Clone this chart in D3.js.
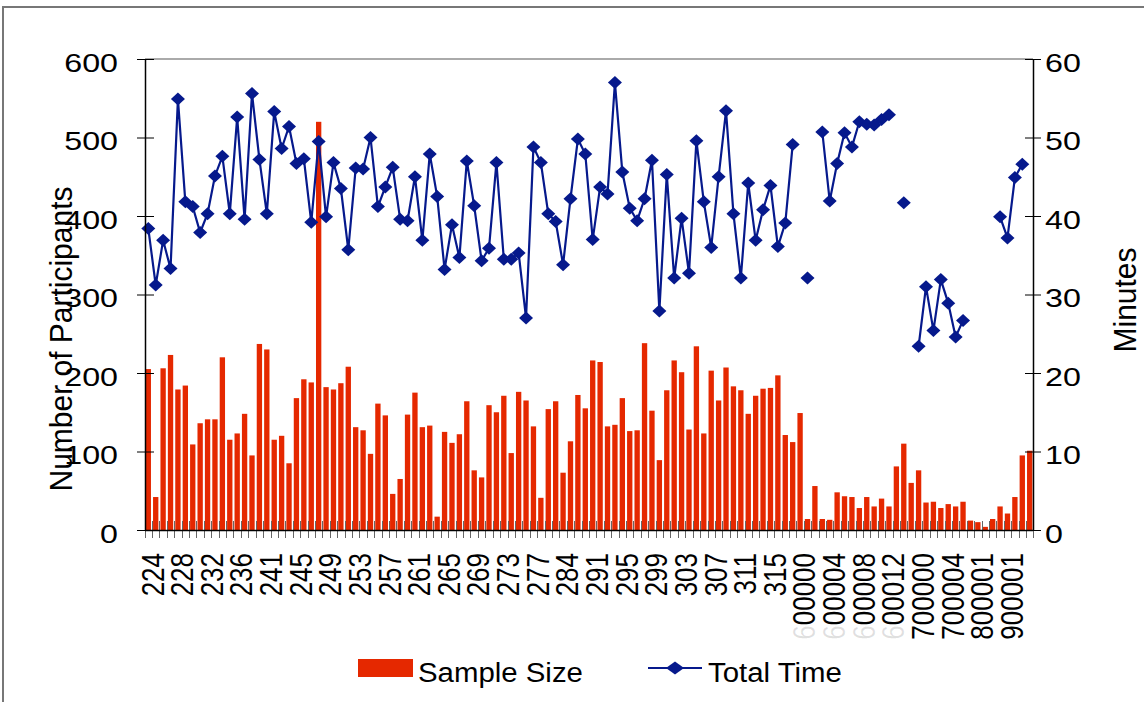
<!DOCTYPE html>
<html>
<head>
<meta charset="utf-8">
<script src="https://cdn.jsdelivr.net/npm/d3@7"></script>
<style>
  body { margin: 0; background: #fff; }
  svg text { font-family: "Liberation Sans", Arial, sans-serif; fill: #000; }
</style>
</head>
<body>
<svg id="chart"></svg>
<script>
// number of participants per survey (left axis, bars)
var sampleSize = [
  205, 42, 206, 223, 179, 184, 109, 136, 141, 141, 220, 115, 123, 148, 95, 237, 230, 115, 120, 85,
  168, 192, 188, 520, 182, 179, 187, 208, 131, 127, 97, 161, 146, 46, 65, 147, 175, 131, 133, 17,
  125, 111, 122, 164, 76, 67, 159, 150, 171, 98, 176, 165, 132, 41, 154, 164, 73, 113, 172, 155,
  216, 214, 132, 134, 168, 126, 127, 238, 152, 89, 178, 216, 201, 128, 234, 123, 203, 165, 207, 183,
  178, 148, 171, 180, 181, 197, 121, 112, 149, 14, 56, 14, 13, 48, 43, 42, 28, 42, 30, 40,
  30, 81, 110, 60, 76, 35, 36, 28, 33, 30, 36, 12, 10, 4, 14, 30, 21, 42, 95, 101
];

// total time in minutes (right axis, line); null = no value
var totalTime = [
  38.4, 31.2, 36.9, 33.3, 54.9, 41.8, 41.2, 37.9, 40.3, 45.1, 47.6, 40.3, 52.6, 39.6, 55.6, 47.2, 40.3, 53.3, 48.6, 51.4,
  46.7, 47.3, 39.2, 49.5, 39.9, 46.8, 43.5, 35.7, 46.1, 46.0, 50.0, 41.2, 43.7, 46.2, 39.6, 39.4, 45.0, 36.9, 47.9, 42.5,
  33.2, 38.9, 34.7, 47.0, 41.3, 34.3, 35.9, 46.8, 34.5, 34.5, 35.3, 27.0, 48.8, 46.8, 40.3, 39.3, 33.8, 42.2, 49.8, 47.9,
  37.0, 43.7, 42.8, 57.0, 45.6, 41.0, 39.4, 42.2, 47.1, 27.9, 45.3, 32.1, 39.7, 32.7, 49.6, 41.8, 36.0, 45.0, 53.4, 40.3,
  32.1, 44.2, 36.9, 40.8, 43.9, 36.1, 39.1, 49.1, null, 32.1, null, 50.7, 41.9, 46.7, 50.6, 48.8, 52.0, 51.7, 51.6, 52.3,
  52.9, null, 41.7, null, 23.4, 31.0, 25.4, 31.9, 28.9, 24.6, 26.7, null, null, null, null, 39.9, 37.2, 44.9, 46.6, null
];

// category labels, one for every 4th category
var tickLabels = ["224", "228", "232", "236", "241", "245", "249", "253", "257", "261",
                  "265", "269", "273", "277", "284", "291", "295", "299", "303", "307",
                  "311", "315", "600000", "600004", "600008", "600012", "700000", "700004", "800001", "900001"];
var labelEvery = 4;
var faintLead = [22, 23, 24, 25];   // labels whose first digit is almost hidden

var leftTicks = [0, 100, 200, 300, 400, 500, 600];
var rightTicks = [0, 10, 20, 30, 40, 50, 60];

var barColor = "#e52800",
    lineColor = "#06198c";

var width = 1144, height = 702;
var plot = {left: 145, right: 1033, top: 59, bottom: 530};
var sx = 1.24;   // text in the picture is stretched horizontally

var svg = d3.select("#chart").attr("width", width).attr("height", height);

svg.append("rect").attr("width", width).attr("height", height).attr("fill", "#fff");

// outer frame (only top and left edge visible)
svg.append("path")
    .attr("d", "M3," + (height + 5) + "V7H" + (width + 5))
    .attr("fill", "none").attr("stroke", "#777").attr("stroke-width", 2);

// scales
var x = d3.scaleBand()
    .domain(d3.range(sampleSize.length))
    .range([plot.left, plot.right])
    .paddingInner(0.28)
    .paddingOuter(0.086);
var yLeft = d3.scaleLinear().domain([0, 600]).range([plot.bottom, plot.top]);
var yRight = d3.scaleLinear().domain([0, 60]).range([plot.bottom, plot.top]);

function cx(i) { return x(i) + x.bandwidth() / 2; }

// plot area top border
svg.append("line")
    .attr("x1", plot.left).attr("x2", plot.right)
    .attr("y1", plot.top).attr("y2", plot.top)
    .attr("stroke", "#aaa").attr("stroke-width", 2);

// bars
svg.selectAll(".bar")
    .data(sampleSize)
    .enter().append("rect")
    .attr("class", "bar")
    .attr("x", function(d, i) { return x(i); })
    .attr("width", x.bandwidth())
    .attr("y", function(d) { return yLeft(d); })
    .attr("height", function(d) { return plot.bottom - yLeft(d); })
    .attr("fill", barColor);

// x axis ticks between categories, crossing the axis
var step = x.step();
var boundaries = d3.range(sampleSize.length + 1).map(function(i) {
    return i < sampleSize.length ? x(i) - step * x.paddingInner() / 2 : plot.right;
});
svg.selectAll(".xtick")
    .data(boundaries)
    .enter().append("line")
    .attr("class", "xtick")
    .attr("x1", function(d) { return Math.round(d) + 0.5; })
    .attr("x2", function(d) { return Math.round(d) + 0.5; })
    .attr("y1", plot.bottom - 9).attr("y2", plot.bottom + 8)
    .attr("stroke", "#666").attr("stroke-width", 1);

svg.append("line")
    .attr("x1", plot.left).attr("x2", plot.right)
    .attr("y1", plot.bottom + 0.5).attr("y2", plot.bottom + 0.5)
    .attr("stroke", "#000").attr("stroke-width", 1.5);

// x labels, rotated
svg.selectAll(".xlabel")
    .data(tickLabels)
    .enter().append("text")
    .attr("class", "xlabel")
    .attr("transform", function(d, k) {
        return "translate(" + (cx(k * labelEvery) + 4) + "," + (plot.bottom + 23) + ") scale(" + sx + ",1) rotate(-90)";
    })
    .attr("text-anchor", "end")
    .attr("dy", "0.35em")
    .style("font-size", "26px")
    .each(function(d, k) {
        var t = d3.select(this);
        if (faintLead.indexOf(k) >= 0) {
            t.append("tspan").attr("fill-opacity", 0.12).text(d.charAt(0));
            t.append("tspan").text(d.slice(1));
        } else {
            t.text(d);
        }
    });

// the total time line
var valueline = d3.line()
    .defined(function(d) { return d != null; })
    .x(function(d, i) { return cx(i); })
    .y(function(d) { return yRight(d); });

svg.append("path")
    .datum(totalTime)
    .attr("d", valueline)
    .attr("fill", "none")
    .attr("stroke", lineColor)
    .attr("stroke-width", 2.2);

var diamond = "M0,-6.5L7,0L0,6.5L-7,0Z";
svg.selectAll(".dot")
    .data(totalTime.map(function(d, i) { return {i: i, v: d}; }).filter(function(d) { return d.v != null; }))
    .enter().append("path")
    .attr("class", "dot")
    .attr("d", diamond)
    .attr("transform", function(d) { return "translate(" + cx(d.i) + "," + yRight(d.v) + ")"; })
    .attr("fill", lineColor);

// left axis
var gLeft = svg.append("g")
    .attr("transform", "translate(" + plot.left + ",0)")
    .call(d3.axisLeft(yLeft).tickValues(leftTicks).tickSizeOuter(0));
gLeft.select(".domain").attr("stroke", "#000").attr("stroke-width", 1.5);
gLeft.selectAll(".tick line").attr("x1", 9).attr("x2", -8).attr("stroke", "#000");
gLeft.selectAll(".tick text")
    .attr("x", null).attr("dy", null)
    .attr("transform", "translate(-27,12.3) scale(" + sx + ",1)")
    .style("font-size", "26px");

// right axis
var gRight = svg.append("g")
    .attr("transform", "translate(" + plot.right + ",0)")
    .call(d3.axisRight(yRight).tickValues(rightTicks).tickSizeOuter(0));
gRight.select(".domain").attr("stroke", "#000").attr("stroke-width", 1.5);
gRight.selectAll(".tick line").attr("x1", -8).attr("x2", 8).attr("stroke", "#000");
gRight.selectAll(".tick text")
    .attr("x", null).attr("dy", null)
    .attr("transform", "translate(12,12.3) scale(" + sx + ",1)")
    .style("font-size", "26px");

// axis titles
svg.append("text")
    .attr("transform", "translate(72,339) scale(1.07,1) rotate(-90)")
    .attr("text-anchor", "middle")
    .style("font-size", "30px")
    .text("Number of Participants");

svg.append("text")
    .attr("transform", "translate(1136,300) scale(1.07,1) rotate(-90)")
    .attr("text-anchor", "middle")
    .style("font-size", "30px")
    .text("Minutes");

// legend
var legend = svg.append("g");
legend.append("rect")
    .attr("x", 358).attr("y", 659).attr("width", 55).attr("height", 18)
    .attr("fill", barColor);
legend.append("text")
    .attr("transform", "translate(418,682) scale(1.05,1)")
    .style("font-size", "28px")
    .text("Sample Size");
legend.append("line")
    .attr("x1", 648).attr("x2", 702).attr("y1", 668).attr("y2", 668)
    .attr("stroke", lineColor).attr("stroke-width", 2.2);
legend.append("path")
    .attr("d", "M0,-6.5L9,0L0,6.5L-9,0Z")
    .attr("transform", "translate(675,668)")
    .attr("fill", lineColor);
legend.append("text")
    .attr("transform", "translate(708,682) scale(1.05,1)")
    .style("font-size", "28px")
    .text("Total Time");
</script>
</body>
</html>
